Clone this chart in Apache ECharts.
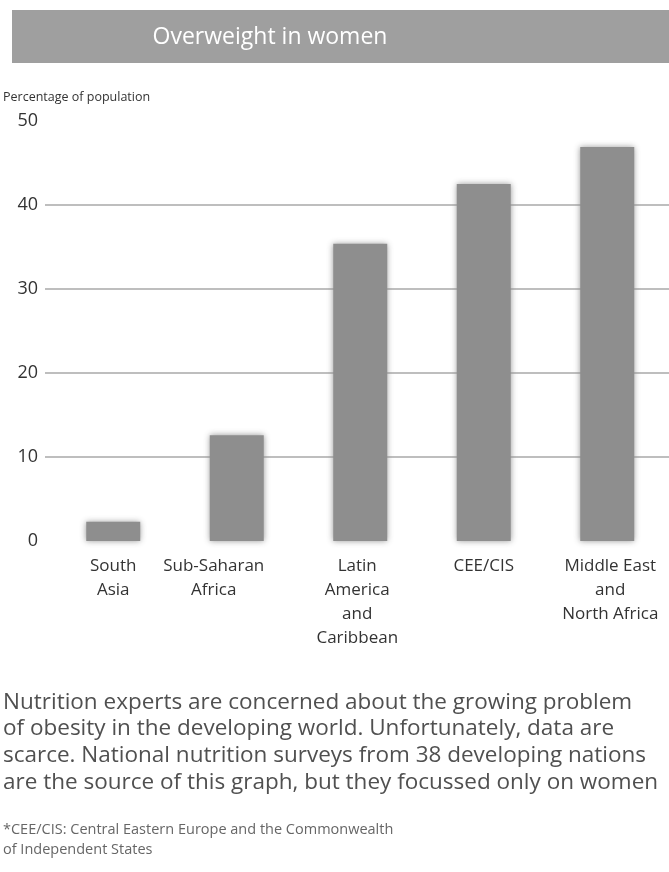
<!DOCTYPE html>
<html>
<head>
<meta charset="utf-8">
<script src="https://cdn.jsdelivr.net/npm/echarts@6/dist/echarts.min.js"></script>
<style>
  html, body { margin: 0; padding: 0; background: #ffffff; overflow: hidden; }
  #chart { width: 669px; height: 872px; }
</style>
</head>
<body>
<div id="chart"></div>
<script>
// Regions and the share of women who are overweight (%)
const regions = [
  'South\nAsia',
  'Sub-Saharan\nAfrica',
  'Latin\nAmerica\nand\nCaribbean',
  'CEE/CIS',
  'Middle East\nand\nNorth Africa'
];
const overweightPct = [2.3, 12.6, 35.4, 42.5, 46.9];

// Value axis range and tick step
const yMin = 0;
const yMax = 50;
const yStep = 10;

const chartTitle = 'Overweight in women';
const axisTitle = 'Percentage of population';
const bodyText = [
  'Nutrition experts are concerned about the growing problem',
  'of obesity in the developing world. Unfortunately, data are',
  'scarce. National nutrition surveys from 38 developing nations',
  'are the source of this graph, but they focussed only on women'
];
const footnote = [
  '*CEE/CIS: Central Eastern Europe and the Commonwealth',
  'of Independent States'
];

const FONT = '"Open Sans", Lato, sans-serif';
const chart = echarts.init(document.getElementById('chart'), null, { renderer: 'canvas' });

const plotTop = 121;
const plotHeight = 420;

// Per-label horizontal nudges for the category names (px of padding)
const labelPadding = [
  [0, 0, 0, 0],
  [0, 46, 0, 0],
  [0, 6, 0, 0],
  [0, 0, 0, 0],
  [0, 0, 0, 6]
];
const categoryData = regions.map((name, i) => ({
  value: name,
  textStyle: { padding: labelPadding[i] }
}));

chart.setOption({
  backgroundColor: '#ffffff',
  animation: false,
  textStyle: { fontFamily: FONT },
  graphic: [
    {
      type: 'rect',
      shape: { x: 12, y: 10, width: 660, height: 53 },
      style: { fill: '#9f9f9f' },
      silent: true
    },
    {
      type: 'text',
      x: 270, y: 37,
      style: {
        text: chartTitle,
        fill: '#ffffff',
        font: '23px ' + FONT,
        align: 'center',
        verticalAlign: 'middle'
      }
    },
    {
      type: 'text',
      x: 3, y: 97,
      style: {
        text: axisTitle,
        fill: '#333333',
        font: '12.5px ' + FONT,
        align: 'left',
        verticalAlign: 'middle'
      }
    },
    {
      type: 'text',
      x: 3, y: 689,
      style: {
        text: bodyText.join('\n'),
        fill: '#505050',
        font: '22.5px ' + FONT,
        lineHeight: 26.7,
        align: 'left',
        verticalAlign: 'top'
      }
    },
    {
      type: 'text',
      x: 3, y: 820,
      style: {
        text: footnote.join('\n'),
        fill: '#666666',
        font: '14.5px ' + FONT,
        lineHeight: 20,
        align: 'left',
        verticalAlign: 'top'
      }
    }
  ],
  grid: [
    // gridlines and value labels
    { left: 45, top: plotTop, width: 624, height: plotHeight, containLabel: false },
    // bars
    { left: 51.5, top: plotTop, width: 625, height: plotHeight, containLabel: false }
  ],
  xAxis: [
    {
      gridIndex: 0, type: 'value', min: 0, max: 1, show: false
    },
    {
      gridIndex: 1,
      type: 'category',
      data: categoryData,
      axisLine: { show: false },
      axisTick: { show: false },
      axisLabel: {
        interval: 0,
        margin: 13,
        color: '#333333',
        fontSize: 17,
        lineHeight: 24,
        fontFamily: FONT
      }
    }
  ],
  yAxis: [
    {
      gridIndex: 0,
      type: 'value',
      min: yMin, max: yMax, interval: yStep,
      axisLine: { show: false },
      axisTick: { show: false },
      axisLabel: { margin: 7, color: '#333333', fontSize: 18, fontFamily: FONT },
      splitLine: {
        show: true,
        showMinLine: false,
        showMaxLine: false,
        lineStyle: { color: '#a8a8a8', width: 1.5 }
      }
    },
    {
      gridIndex: 1,
      type: 'value',
      min: yMin, max: yMax, interval: yStep,
      show: false,
      splitLine: { show: false }
    }
  ],
  series: [
    {
      type: 'bar',
      xAxisIndex: 1,
      yAxisIndex: 1,
      data: overweightPct,
      barWidth: 54,
      itemStyle: {
        color: '#8e8e8e',
        shadowBlur: 6,
        shadowColor: 'rgba(142,142,142,0.9)'
      },
      silent: true
    }
  ]
});
</script>
</body>
</html>
